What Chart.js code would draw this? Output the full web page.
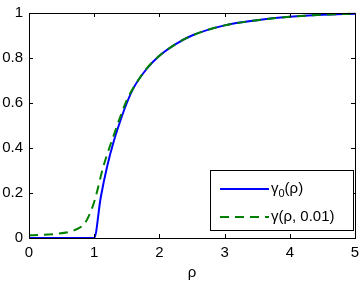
<!DOCTYPE html>
<html>
<head>
<meta charset="utf-8">
<script src="https://cdn.jsdelivr.net/npm/chart.js@4/dist/chart.umd.min.js"></script>
<style>
  html, body { margin: 0; padding: 0; background: #fff; }
  #wrap { width: 359px; height: 282px; }
</style>
</head>
<body>
<div id="wrap"><canvas id="chart" width="359" height="282"></canvas></div>
<script>
// values
const rho0 = [0, 1, 1.1, 1.2, 1.3, 1.4, 1.5, 1.6, 1.8, 2.0, 2.25, 2.5, 3.0, 3.5, 4.0, 4.5, 5.0];
const gamma0 = [0, 0, 0.18, 0.32, 0.43, 0.52, 0.60, 0.665, 0.75, 0.81, 0.862, 0.90, 0.945, 0.968, 0.983, 0.992, 0.997];

const rhoEps = [0, 0.4, 0.7, 0.86, 0.95, 1.01, 1.14, 1.31, 1.5, 1.65, 1.8, 2.0, 2.25, 2.5, 3.0, 3.5, 4.0, 4.5, 5.0];
const gammaEps = [0.012, 0.018, 0.035, 0.067, 0.12, 0.17, 0.317, 0.465, 0.613, 0.69, 0.752, 0.81, 0.862, 0.90, 0.945, 0.968, 0.983, 0.992, 0.997];

const xTicks = [0, 1, 2, 3, 4, 5];
const yTicks = [0, 0.2, 0.4, 0.6, 0.8, 1];
const yTickLabels = ['0', '0.2', '0.4', '0.6', '0.8', '1'];

const FONT = 'Liberation Sans, Arial, sans-serif';
const FS = 15;

function toPoints(xs, ys) {
    return xs.map((x, i) => ({ x: x, y: ys[i] }));
}

// box, inward ticks and legend, matlab style
const boxPlugin = {
    id: 'box',
    afterDraw(chart) {
        const ctx = chart.ctx;
        const a = chart.chartArea;
        const xs = chart.scales.x;
        const ys = chart.scales.y;
        ctx.save();
        ctx.strokeStyle = '#000';
        ctx.lineWidth = 1;
        ctx.beginPath();
        xTicks.forEach(t => {
            const px = Math.round(xs.getPixelForValue(t)) + 0.5;
            ctx.moveTo(px, a.bottom); ctx.lineTo(px, a.bottom - 4);
            ctx.moveTo(px, a.top); ctx.lineTo(px, a.top + 4);
        });
        yTicks.forEach(t => {
            const py = Math.round(ys.getPixelForValue(t)) + 0.5;
            ctx.moveTo(a.left, py); ctx.lineTo(a.left + 4, py);
            ctx.moveTo(a.right, py); ctx.lineTo(a.right - 4, py);
        });
        ctx.stroke();
        ctx.strokeRect(Math.round(a.left) + 0.5, Math.round(a.top) + 0.5,
            Math.round(a.right - a.left), Math.round(a.bottom - a.top));

        // legend
        const lx = 210.5, ly = 170.5, lw = 143, lh = 60;
        ctx.fillStyle = '#fff';
        ctx.fillRect(lx, ly, lw, lh);
        ctx.strokeRect(lx, ly, lw, lh);

        const rows = [
            { y: 189, color: '#0000ff', dash: [], main: 'γ', sub: '0', rest: '(ρ)' },
            { y: 217, color: '#008000', dash: [9, 6], main: 'γ(ρ, 0.01)', sub: '', rest: '' }
        ];
        rows.forEach(r => {
            ctx.strokeStyle = r.color;
            ctx.lineWidth = 2;
            ctx.setLineDash(r.dash);
            ctx.beginPath();
            ctx.moveTo(220, r.y); ctx.lineTo(269, r.y);
            ctx.stroke();
            ctx.setLineDash([]);
            ctx.fillStyle = '#000';
            ctx.textBaseline = 'middle';
            ctx.textAlign = 'left';
            ctx.font = FS + 'px ' + FONT;
            let x = 271;
            ctx.fillText(r.main, x, r.y);
            x += ctx.measureText(r.main).width;
            if (r.sub) {
                ctx.font = '11px ' + FONT;
                ctx.fillText(r.sub, x, r.y + 5);
                x += ctx.measureText(r.sub).width;
                ctx.font = FS + 'px ' + FONT;
                ctx.fillText(r.rest, x, r.y);
            }
        });
        ctx.restore();
    }
};

const ctx = document.getElementById('chart').getContext('2d');

let myChart = new Chart(ctx, {
    type: 'line',
    data: {
        datasets: [
            {
                label: 'γ0(ρ)',
                data: toPoints(rho0, gamma0),
                borderColor: '#0000ff',
                borderWidth: 2,
                pointRadius: 0,
                cubicInterpolationMode: 'monotone',
                clip: false,
                order: 1
            },
            {
                label: 'γ(ρ, 0.01)',
                data: toPoints(rhoEps, gammaEps),
                borderColor: '#008000',
                borderWidth: 2,
                borderDash: [9, 6],
                pointRadius: 0,
                cubicInterpolationMode: 'monotone',
                clip: false,
                order: 0
            }
        ]
    },
    options: {
        responsive: false,
        animation: false,
        layout: { padding: { top: 13, right: 4, left: 0, bottom: 0 } },
        plugins: {
            legend: { display: false },
            tooltip: { enabled: false }
        },
        scales: {
            x: {
                type: 'linear',
                min: 0,
                max: 5,
                afterBuildTicks: s => { s.ticks = xTicks.map(v => ({ value: v })); },
                grid: { display: false, drawTicks: false },
                border: { display: false },
                ticks: { color: '#000', padding: 6, font: { family: FONT, size: FS }, maxRotation: 0 },
                title: { display: true, text: 'ρ', color: '#000', font: { family: FONT, size: FS }, padding: { top: 2, bottom: 0 } },
                afterFit: s => { s.height = 44; s.paddingLeft = 0; s.paddingRight = 0; }
            },
            y: {
                type: 'linear',
                min: 0,
                max: 1,
                afterBuildTicks: s => { s.ticks = yTicks.map(v => ({ value: v })); },
                grid: { display: false, drawTicks: false },
                border: { display: false },
                ticks: {
                    color: '#000', padding: 6, font: { family: FONT, size: FS },
                    callback: (v) => yTickLabels[yTicks.indexOf(v)] ?? ''
                },
                afterFit: s => { s.width = 29; s.paddingTop = 0; s.paddingBottom = 0; }
            }
        }
    },
    plugins: [boxPlugin]
});
</script>
</body>
</html>
